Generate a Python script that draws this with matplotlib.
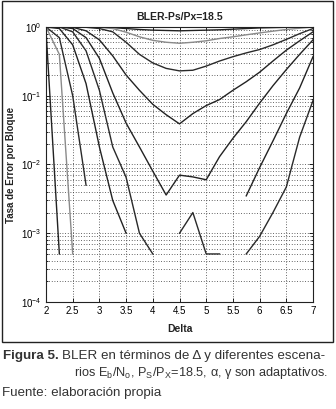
import numpy as np
import matplotlib
matplotlib.use("Agg")
import matplotlib.pyplot as plt
from matplotlib.patches import Rectangle
from matplotlib.ticker import LogLocator, FixedLocator, NullFormatter

nan = np.nan
delta = [2.0, 2.25, 2.5, 2.75, 3.0, 3.25, 3.5, 3.75, 4.0, 4.25, 4.5, 4.75,
         5.0, 5.25, 5.5, 5.75, 6.0, 6.25, 6.5, 6.75, 7.0]

bler_a = [1, 1, 1, 1, 1, 0.98, 0.95, 0.92, 0.9, 0.89, 0.88, 0.89, 0.9, 0.91,
          0.93, 0.95, 0.97, 0.98, 0.99, 1, 1]
bler_b = [1, 1, 1, 1, 0.99, 0.95, 0.84, 0.72, 0.64, 0.6, 0.58, 0.6, 0.63,
          0.68, 0.72, 0.77, 0.82, 0.87, 0.92, 0.96, 1]
bler_c = [1, 1, 1, 0.99, 0.95, 0.85, 0.6, 0.4, 0.3, 0.25, 0.23, 0.235, 0.27,
          0.32, 0.37, 0.42, 0.47, 0.55, 0.66, 0.8, 0.95]
bler_d = [1, 1, 0.99, 0.88, 0.65, 0.38, 0.2, 0.12, 0.075, 0.053, 0.039, 0.055,
          0.072, 0.088, 0.12, 0.16, 0.22, 0.32, 0.46, 0.63, 0.85]
bler_e = [1, 1, 0.95, 0.7, 0.35, 0.11, 0.04, 0.018, 0.008, 0.0036, 0.007,
          0.0066, 0.006, 0.013, 0.024, 0.042, 0.078, 0.14, 0.24, 0.4, 0.65]
bler_f = [1, 1, 0.85, 0.45, 0.12, 0.018, 0.0065, 0.001, 0.0005, nan, 0.001,
          0.002, 0.0005, 0.0005, nan, 0.0005, 0.0009, 0.002, 0.0047, 0.025, 0.085]
bler_g = [1, 0.95, 0.55, 0.15, 0.018, 0.003, 0.001, nan, nan, nan, nan, nan,
          nan, nan, nan, 0.0035, 0.009, 0.022, 0.055, 0.13, 0.37]
bler_h = [1, 0.7, 0.1, 0.005] + [nan] * 17
bler_i = [1, 0.4, 0.0005] + [nan] * 18
bler_j = [0.9, 0.0005] + [nan] * 19

series = [(bler_a, "#222222"), (bler_b, "#8a8a8a"), (bler_c, "#2a2a2a"),
          (bler_d, "#222222"), (bler_e, "#222222"), (bler_f, "#2a2a2a"),
          (bler_g, "#222222"), (bler_h, "#2a2a2a"), (bler_i, "#8a8a8a"),
          (bler_j, "#222222")]

xticks = [2, 2.5, 3, 3.5, 4, 4.5, 5, 5.5, 6, 6.5, 7]
xticklabels = ["2", "2.5", "3", "3.5", "4", "4.5", "5", "5.5", "6", "6.5", "7"]

NARROW = ["Liberation Sans Narrow", "Liberation Sans", "DejaVu Sans"]
plt.rcParams["font.family"] = NARROW
plt.rcParams["mathtext.fontset"] = "custom"
plt.rcParams["mathtext.rm"] = "Liberation Sans"
plt.rcParams["mathtext.it"] = "Liberation Sans"

W, H = 336, 409
fig = plt.figure(figsize=(W / 100, H / 100), dpi=100)
fig.patch.set_facecolor("white")

# outer frame
fig.patches.append(Rectangle((2 / W, 1 - 342 / H), 331 / W, 341 / H,
                             transform=fig.transFigure, fill=False,
                             edgecolor="#222222", linewidth=1.0))

ax = fig.add_axes([46 / W, 1 - 302 / H, 267 / W, 275 / H])
for vals, col in series:
    ax.plot(delta, vals, color=col, linewidth=1.0)

ax.set_yscale("log")
ax.set_xlim(2, 7)
ax.set_ylim(1e-4, 1)
ax.xaxis.set_major_locator(FixedLocator(xticks))
ax.set_xticklabels(xticklabels)
ax.yaxis.set_major_locator(LogLocator(base=10, numticks=10))
ax.yaxis.set_minor_locator(LogLocator(base=10, subs=np.arange(2, 10), numticks=20))
ax.yaxis.set_minor_formatter(NullFormatter())
ax.grid(True, which="major", linestyle=(0, (1, 2.2)), color="#333333", linewidth=0.6)
ax.grid(True, which="minor", axis="y", linestyle=(0, (1, 2.2)), color="#333333", linewidth=0.6)
ax.tick_params(which="both", direction="in", top=True, right=True,
               labelsize=7, length=3, width=0.6, pad=3)
ax.tick_params(which="minor", length=1.5)
for s in ax.spines.values():
    s.set_linewidth(0.8)
    s.set_color("#222222")

ax.set_title("BLER-Ps/Px=18.5", fontsize=7.5, fontweight="bold", pad=5, color="#222222")
ax.set_xlabel("Delta", fontsize=7.5, fontweight="bold", labelpad=6, color="#222222")
ax.set_ylabel("Tasa de Error por Bloque", fontsize=7, fontweight="bold",
              labelpad=4, color="#222222")

# caption
CAP = ["Liberation Sans", "DejaVu Sans"]
cc = "#333333"
FS = 9.6
renderer = fig.canvas.get_renderer()
t1 = fig.text(3 / W, 1 - 356 / H, "Figura 5.", fontsize=FS, fontweight="bold",
              color=cc, family=CAP, va="center", ha="left")
ext = t1.get_window_extent(renderer=renderer)
x2 = (ext.x1 + 3) / W
t2 = fig.text(x2, 1 - 356 / H, "BLER en términos de Δ y diferentes escena-",
              fontsize=FS, color=cc, family=CAP, va="center", ha="left")
e2 = t2.get_window_extent(renderer=renderer)
if e2.x1 > 333:
    t2.set_fontsize(FS * (333 - e2.x0) / e2.width)
t3 = fig.text(74 / W, 1 - 373 / H,
              r"rios E$_\mathrm{b}$/N$_\mathrm{o}$, P$_\mathrm{S}$/P$_\mathrm{X}$=18.5, α, γ son adaptativos.",
              fontsize=FS, color=cc, family=CAP, va="center", ha="left")
e3 = t3.get_window_extent(renderer=renderer)
if e3.x1 > 328:
    t3.set_fontsize(FS * (328 - e3.x0) / e3.width)
fig.text(2 / W, 1 - 393 / H, "Fuente: elaboración propia", fontsize=FS,
         color=cc, family=CAP, va="center", ha="left")

fig.savefig("out.png", dpi=100, facecolor="white")
